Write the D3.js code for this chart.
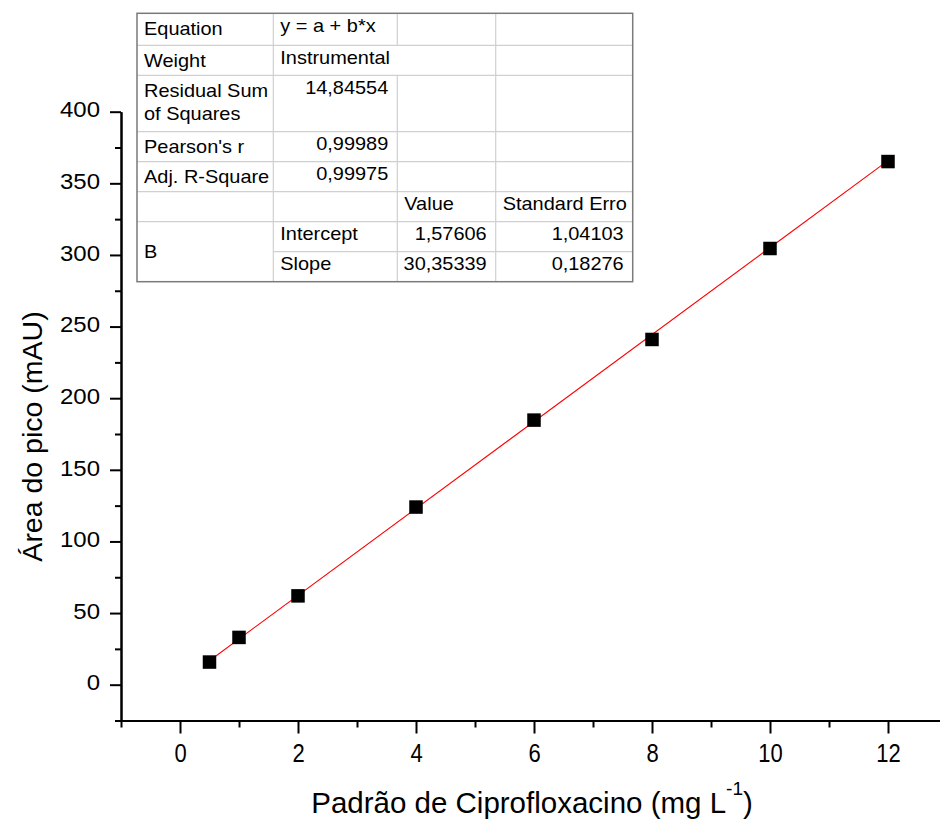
<!DOCTYPE html>
<html><head><meta charset="utf-8">
<script src="https://cdn.jsdelivr.net/npm/d3@7"></script>
<style>body{margin:0;background:#fff}text{font-family:"Liberation Sans",Arial,sans-serif}</style>
</head><body><svg id="c" width="940" height="824"></svg>
<script>
// ---- data ----
const concentrations = [0.5, 1, 2, 4, 6, 8, 10, 12];
const peakAreas = [15.8, 33, 62, 124, 184.7, 241, 304.5, 365.2];
const fitX = [0.5, 12];
const fitY = [16.75, 365.82];
const xMajorTicks = [0, 2, 4, 6, 8, 10, 12];
const xMinorTicks = [-1, 1, 3, 5, 7, 9, 11, 13];
const yMajorTicks = [0, 50, 100, 150, 200, 250, 300, 350, 400];
const yMinorTicks = [-25, 25, 75, 125, 175, 225, 275, 325, 375];
const xTitle = "Padrão de Ciprofloxacino (mg L";
const xTitleSup = "-1";
const xTitleEnd = ")";
const yTitle = "Área do pico (mAU)";
const tableRows = [
  ["Equation", "y = a + b*x", "", ""],
  ["Weight", "Instrumental", "", ""],
  ["Residual Sum\nof Squares", "14,84554", "", ""],
  ["Pearson's r", "0,99989", "", ""],
  ["Adj. R-Square", "0,99975", "", ""],
  ["", "", "Value", "Standard Erro"],
  ["B", "Intercept", "1,57606", "1,04103"],
  ["", "Slope", "30,35339", "0,18276"]
];

// ---- layout ----
const svg = d3.select("#c");
const x = d3.scaleLinear().domain([-1, 13]).range([121, 947]);
const y = d3.scaleLinear().domain([-25, 400]).range([720.5, 111.7]);

function styleAxis(g){
  g.select(".domain").attr("stroke", "#000").attr("stroke-width", 2);
  g.selectAll(".tick line").attr("stroke", "#000").attr("stroke-width", 2);
}

// x axis
const gxMinor = svg.append("g").attr("transform", `translate(0,${y(-25)})`)
  .call(d3.axisBottom(x).tickValues(xMinorTicks).tickSize(7).tickSizeOuter(0).tickFormat(""));
styleAxis(gxMinor);
const gx = svg.append("g").attr("transform", `translate(0,${y(-25)})`)
  .call(d3.axisBottom(x).tickValues(xMajorTicks).tickSize(13).tickSizeOuter(0).tickFormat(d3.format("d")));
styleAxis(gx);
gx.selectAll(".tick text").attr("y", null).attr("dy", null)
  .attr("fill", "#000").attr("font-size", 22)
  .attr("font-family", '"Liberation Sans",Arial,sans-serif')
  .attr("text-anchor", "middle")
  .attr("transform", "translate(0,41.2) scale(1,1.16)");

// y axis
const gyMinor = svg.append("g").attr("transform", `translate(${x(-1)},0)`)
  .call(d3.axisLeft(y).tickValues(yMinorTicks).tickSize(6).tickSizeOuter(0).tickFormat(""));
styleAxis(gyMinor);
const gy = svg.append("g").attr("transform", `translate(${x(-1)},0)`)
  .call(d3.axisLeft(y).tickValues(yMajorTicks).tickSize(11).tickSizeOuter(0).tickFormat(d3.format("d")));
styleAxis(gy);
gy.selectAll(".tick text").attr("x", null).attr("dy", null)
  .attr("fill", "#000").attr("font-size", 22)
  .attr("font-family", '"Liberation Sans",Arial,sans-serif')
  .attr("text-anchor", "end")
  .attr("transform", "translate(-21,5.2) scale(1.09,1)");

// titles
const xt = svg.append("text").attr("x", 532).attr("y", 813)
  .attr("text-anchor", "middle").attr("font-size", 29.5).attr("fill", "#000");
xt.append("tspan").text(xTitle);
xt.append("tspan").attr("font-size", 19).attr("dy", -18).text(xTitleSup);
xt.append("tspan").attr("dy", 18).text(xTitleEnd);

svg.append("text").attr("transform", "translate(41.7,436.5) rotate(-90)")
  .attr("text-anchor", "middle").attr("font-size", 28.5).attr("fill", "#000").text(yTitle);

// fit line
svg.append("path")
  .datum(d3.zip(fitX, fitY))
  .attr("d", d3.line().x(d => x(d[0])).y(d => y(d[1])))
  .attr("fill", "none").attr("stroke", "#ff0000").attr("stroke-width", 1.1);

// points
const sq = 13.5;
svg.append("g").selectAll("rect").data(d3.zip(concentrations, peakAreas)).join("rect")
  .attr("x", d => x(d[0]) - sq / 2).attr("y", d => y(d[1]) - sq / 2)
  .attr("width", sq).attr("height", sq).attr("fill", "#000");

// table
const colX = [137, 273.3, 397.3, 495.7, 632.7];
const rowY = [13.3, 45.3, 75.3, 131.7, 161.7, 191.7, 221.7, 251.7, 281.7];
const tg = svg.append("g");
tg.append("rect").attr("x", colX[0]).attr("y", rowY[0])
  .attr("width", colX[4] - colX[0]).attr("height", rowY[8] - rowY[0])
  .attr("fill", "#fff");
for (let i = 1; i < rowY.length - 1; i++) {
  tg.append("line").attr("x1", i === 7 ? colX[1] : colX[0]).attr("x2", colX[4])
    .attr("y1", rowY[i]).attr("y2", rowY[i]).attr("stroke", "#d0d0d0").attr("stroke-width", 1.2);
}
for (let c = 1; c < 4; c++) {
  for (let r = 0; r < 8; r++) {
    if (c === 2 && r === 1) continue;
    tg.append("line").attr("x1", colX[c]).attr("x2", colX[c])
      .attr("y1", rowY[r]).attr("y2", rowY[r + 1]).attr("stroke", "#d0d0d0").attr("stroke-width", 1.2);
  }
}
tg.append("rect").attr("x", colX[0]).attr("y", rowY[0])
  .attr("width", colX[4] - colX[0]).attr("height", rowY[8] - rowY[0])
  .attr("fill", "none").attr("stroke", "#7a7a7a").attr("stroke-width", 1.5);

const isNum = s => /^[\d,]+$/.test(s);
tableRows.forEach((row, r) => {
  row.forEach((cell, c) => {
    if (!cell) return;
    let base = c === 0 ? rowY[r] + 21.2 : rowY[r] + 18.5;
    if (c === 0 && cell === "B") base = rowY[r + 1] + 6.6;
    const num = isNum(cell);
    const tx = num ? colX[c + 1] - 9 : colX[c] + 7;
    const t = tg.append("text")
      .attr("transform", `translate(${tx},${base}) scale(1.14,1)`)
      .attr("font-size", 17.5).attr("fill", "#000")
      .attr("text-anchor", num ? "end" : "start");
    cell.split("\n").forEach((ln, i) => {
      t.append("tspan").attr("x", 0).attr("dy", i === 0 ? 0 : 23.3).text(ln);
    });
  });
});
</script></body></html>
